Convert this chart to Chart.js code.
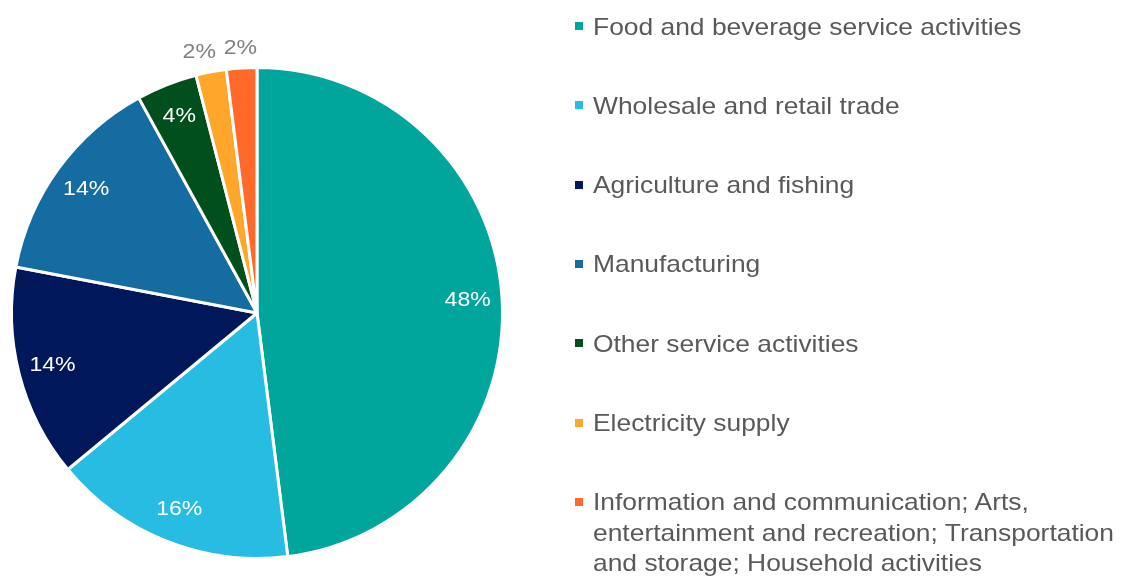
<!DOCTYPE html>
<html>
<head>
<meta charset="utf-8">
<script src="https://cdn.jsdelivr.net/npm/chart.js@4/dist/chart.umd.min.js"></script>
<style>
  html, body { margin: 0; padding: 0; background: #fff; }
  #wrap { position: relative; width: 1122px; height: 579px; overflow: hidden; }
  #pie { position: absolute; left: 0; top: 0; }
  #legend { position: absolute; left: 0; top: 0; font-family: "Liberation Sans", Arial, sans-serif; font-size: 24px; color: #595959; }
  .item { position: absolute; left: 575px; line-height: 30.5px; white-space: nowrap; }
  .box { position: absolute; left: 0; top: 10.5px; width: 8px; height: 8px; }
  .txt { position: absolute; left: 18px; top: 0; transform: scaleX(1.1); transform-origin: left top; }
</style>
</head>
<body>
<div id="wrap">
  <canvas id="pie" width="1122" height="579"></canvas>
  <div id="legend"></div>
</div>
<script>
// sectors, clockwise from 12 o'clock
let sectors = [
  ["Food and beverage service activities"],
  ["Wholesale and retail trade"],
  ["Agriculture and fishing"],
  ["Manufacturing"],
  ["Other service activities"],
  ["Electricity supply"],
  ["Information and communication; Arts,", "entertainment and recreation; Transportation", "and storage; Household activities"]
];
let shares = [48, 16, 14, 14, 4, 2, 2];
let colours = ["#00A59B", "#27BDE2", "#00185A", "#146CA0", "#004F1D", "#FFA62B", "#FF6A2B"];

// percentage labels: big slices inside in white, thin ones just outside in grey
let pctLabels = {
  id: "pctLabels",
  afterDatasetsDraw(chart) {
    let ctx = chart.ctx;
    let meta = chart.getDatasetMeta(0);
    let data = chart.data.datasets[0].data;
    let total = data.reduce((a, b) => a + b, 0);
    meta.data.forEach((arc, i) => {
      let p = arc.getProps(["x", "y", "startAngle", "endAngle", "outerRadius"], true);
      let mid = (p.startAngle + p.endAngle) / 2;
      let pct = data[i] / total * 100;
      let outside = pct < 3;
      let d = outside ? p.outerRadius + 20 : p.outerRadius * 0.86;
      let x = p.x + Math.cos(mid) * d;
      let y = p.y + Math.sin(mid) * d;
      // spread the two thin slices apart a little
      if (outside && Math.cos(mid) < -0.1) x -= 8;
      ctx.save();
      ctx.translate(x, y);
      ctx.scale(1.1, 1);
      ctx.font = '21px "Liberation Sans", Arial, sans-serif';
      ctx.fillStyle = outside ? "#7F7F7F" : "#FFFFFF";
      ctx.textAlign = "center";
      ctx.textBaseline = "middle";
      ctx.fillText(Math.round(pct) + "%", 0, 0);
      ctx.restore();
    });
  }
};

let chart = new Chart(document.getElementById("pie"), {
  type: "pie",
  data: {
    labels: sectors.map(s => s.join(" ")),
    datasets: [{
      data: shares,
      backgroundColor: colours,
      borderColor: "#FFFFFF",
      borderWidth: 3
    }]
  },
  options: {
    responsive: false,
    animation: false,
    layout: { padding: { left: 9, top: 66, right: 617, bottom: 19 } },
    plugins: {
      legend: { display: false },
      tooltip: { enabled: false }
    }
  },
  plugins: [pctLabels]
});

// legend on the right, one entry per sector
let legend = document.getElementById("legend");
sectors.forEach((lines, i) => {
  let item = document.createElement("div");
  item.className = "item";
  item.style.top = (11.5 + i * 79.3) + "px";
  let box = document.createElement("span");
  box.className = "box";
  box.style.background = colours[i];
  let txt = document.createElement("span");
  txt.className = "txt";
  txt.innerHTML = lines.join("<br>");
  item.appendChild(box);
  item.appendChild(txt);
  legend.appendChild(item);
});
</script>
</body>
</html>
